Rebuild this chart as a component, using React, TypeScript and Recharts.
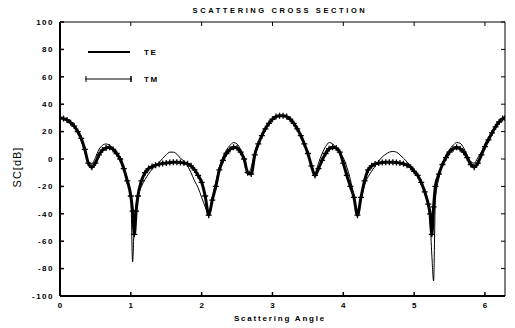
import { LineChart, Line, XAxis, YAxis, Legend } from "recharts";

// scattering angle samples (rad), a bit denser around the two deep nulls
const ANGLES = [
  0, 0.05, 0.1, 0.15, 0.2, 0.25, 0.3, 0.35, 0.4, 0.45,
  0.5, 0.55, 0.6, 0.65, 0.7, 0.75, 0.8, 0.85, 0.9, 0.95,
  1.0, 1.025, 1.05, 1.075,
  1.1, 1.15, 1.2, 1.25, 1.3, 1.35, 1.4, 1.45, 1.5, 1.55,
  1.6, 1.65, 1.7, 1.75, 1.8, 1.85, 1.9, 1.95, 2.0, 2.05,
  2.1, 2.15, 2.2, 2.25, 2.3, 2.35, 2.4, 2.45, 2.5, 2.55,
  2.6, 2.65, 2.7, 2.75, 2.8, 2.85, 2.9, 2.95, 3.0, 3.05,
  3.1, 3.15, 3.2, 3.25, 3.3, 3.35, 3.4, 3.45, 3.5, 3.55,
  3.6, 3.65, 3.7, 3.75, 3.8, 3.85, 3.9, 3.95, 4.0, 4.05,
  4.1, 4.15, 4.2, 4.25, 4.3, 4.35, 4.4, 4.45, 4.5, 4.55,
  4.6, 4.65, 4.7, 4.75, 4.8, 4.85, 4.9, 4.95, 5.0, 5.05,
  5.1, 5.15, 5.2, 5.225, 5.25, 5.275,
  5.3, 5.35, 5.4, 5.45, 5.5, 5.55, 5.6, 5.65, 5.7, 5.75,
  5.8, 5.85, 5.9, 5.95, 6.0, 6.05, 6.1, 6.15, 6.2, 6.25,
  6.283,
];

// TE, thin solid line (dB)
const TE = [
  30, 29.5, 28.5, 26.5, 23.5, 19, 13.5, 5, -2, -3.5,
  1, 7, 10, 11, 10, 7.5, 4, -1, -6, -14,
  -26, -75, -45, -33,
  -27, -20, -15, -11, -7.5, -5, -2.5, 0.5, 3, 5,
  5, 3.5, 0.5, -1.5, -5, -10, -16, -21, -28, -35,
  -40, -28, -17, -6, 1.5, 6.5, 10, 12, 11, 7,
  1, -11, -6, 5, 12, 17, 22, 26, 29, 31,
  31.5, 31.5, 31, 29, 26, 22, 17, 11, 4, -4,
  -10, -3, 4, 9, 12, 11, 8, 4, 1, -6,
  -15, -27, -40, -30, -19, -13, -9, -5, -1.5, 1.5,
  3.5, 5, 5.5, 5, 3, 0.5, -2, -5, -8, -12,
  -17, -24, -33, -45, -70, -89,
  -30, -14, -4, 3, 7, 10, 12, 11.5, 8, 3,
  -2, -3, 1, 5, 11, 16, 20, 24, 27.5, 29.5,
  30,
];

// TM, line with + markers (dB)
const TM = [
  30, 29.5, 28.5, 26.5, 24, 20, 15, 7, -3, -6,
  -3, 3, 6.5, 8, 8.5, 7, 4, 0, -7, -16,
  -27, -38, -55, -38,
  -27, -16, -10, -7, -5.5, -4.5, -3.8, -3.2, -3, -2.6,
  -2.4, -2.4, -2.5, -3, -3.5, -5, -8, -12, -17, -27,
  -41, -30, -20, -8, -1, 4, 7, 8.5, 8, 5,
  0, -10, -11, 3, 11, 17, 22, 26, 29, 31,
  31.5, 31.5, 31, 29, 26, 22, 17, 11, 4, -5,
  -12, -7, -1, 4, 7.5, 8.5, 8, 5, -3, -12,
  -20, -28, -41, -28, -16, -8, -5, -3.6, -3, -2.6,
  -2.4, -2.4, -2.4, -2.5, -3, -3.5, -4.5, -6, -9, -12,
  -17, -24, -33, -40, -55, -35,
  -20, -11, -4, 1, 5, 7.5, 8.5, 7.5, 5, 1,
  -4, -6, -3, 3, 9, 14, 19, 23.5, 27, 29.5,
  30,
];

const X_TICKS = [0, 1, 2, 3, 4, 5, 6];
const Y_TICKS = [-100, -80, -60, -40, -20, 0, 20, 40, 60, 80, 100];

const data = ANGLES.map((angle, i) => ({ angle, te: TE[i], tm: TM[i] }));

const FONT = "'Liberation Sans', Arial, sans-serif";

// tick marks point into the plot on every side
const LeftTick = (p: any) => (
  <g>
    <line x1={p.x} y1={p.y} x2={p.x + 4} y2={p.y} stroke="#000" strokeWidth={1.5} />
    <text x={p.x - 6} y={p.y} dy="0.35em" textAnchor="end" fontSize={8} fontWeight="bold"
      fontFamily={FONT} style={{ letterSpacing: 1.5 }} fill="#000">
      {p.payload.value}
    </text>
  </g>
);

const RightTick = (p: any) => (
  <line x1={p.x} y1={p.y} x2={p.x - 4} y2={p.y} stroke="#000" strokeWidth={1} />
);

const BottomTick = (p: any) => (
  <g>
    <line x1={p.x} y1={p.y} x2={p.x} y2={p.y - 4} stroke="#000" strokeWidth={1.5} />
    <text x={p.x} y={p.y + 9} dy="0.35em" textAnchor="middle" fontSize={8} fontWeight="bold"
      fontFamily={FONT} fill="#000">
      {p.payload.value}
    </text>
  </g>
);

const TopTick = (p: any) => (
  <line x1={p.x} y1={p.y} x2={p.x} y2={p.y + 4} stroke="#000" strokeWidth={1} />
);

const PlusDot = (p: any) => {
  if (p.cx == null || p.cy == null) return <g key={`tm-${p.index}`} />;
  return (
    <path key={`tm-${p.index}`} d={`M${p.cx - 3},${p.cy}h6M${p.cx},${p.cy - 3}v6`}
      stroke="#000" strokeWidth={1.3} fill="none" />
  );
};

const renderLegend = (props: any) => {
  const items = props.payload || [];
  const te = items.find((e: any) => e.dataKey === "te");
  const tm = items.find((e: any) => e.dataKey === "tm");
  return (
    <svg width={90} height={45} style={{ display: "block" }}>
      <line x1={8} y1={8} x2={50} y2={8} stroke="#000" strokeWidth={2} />
      <text x={64} y={8} dy="0.35em" fontSize={8} fontWeight="bold" fontFamily={FONT}
        style={{ letterSpacing: 1.5 }}>{te ? te.value : "TE"}</text>
      <line x1={5} y1={35} x2={52} y2={35} stroke="#000" strokeWidth={1} />
      <line x1={6} y1={32} x2={6} y2={38} stroke="#000" strokeWidth={1} />
      <line x1={51} y1={32} x2={51} y2={38} stroke="#000" strokeWidth={1.5} />
      <text x={64} y={35} dy="0.35em" fontSize={8} fontWeight="bold" fontFamily={FONT}
        style={{ letterSpacing: 1.5 }}>{tm ? tm.value : "TM"}</text>
    </svg>
  );
};

export default function App() {
  return (
    <div style={{ position: "absolute", left: 0, top: 0, width: 515, height: 328, background: "#fff" }}>
      <LineChart width={515} height={328} data={data} margin={{ top: 0, right: 0, bottom: 0, left: 0 }}>
        <XAxis xAxisId="bottom" dataKey="angle" type="number" domain={[0, 2 * Math.PI]}
          ticks={X_TICKS} allowDataOverflow height={32} tickSize={0} tickMargin={0}
          tick={<BottomTick />} axisLine={{ stroke: "#000", strokeWidth: 2 }} />
        <XAxis xAxisId="top" orientation="top" dataKey="angle" type="number" domain={[0, 2 * Math.PI]}
          ticks={X_TICKS} allowDataOverflow height={22} tickSize={0} tickMargin={0}
          tick={<TopTick />} axisLine={{ stroke: "#000", strokeWidth: 1 }} />
        <YAxis yAxisId="left" type="number" domain={[-100, 100]} ticks={Y_TICKS} width={60}
          tickSize={0} tickMargin={0} tick={<LeftTick />} allowDataOverflow
          axisLine={{ stroke: "#000", strokeWidth: 2 }} />
        <YAxis yAxisId="right" orientation="right" type="number" domain={[-100, 100]} ticks={Y_TICKS}
          width={10} tickSize={0} tickMargin={0} tick={<RightTick />} allowDataOverflow
          axisLine={{ stroke: "#000", strokeWidth: 1 }} />
        <Legend layout="vertical" align="center" verticalAlign="middle" content={renderLegend}
          wrapperStyle={{ left: 80, top: 44, width: 90, height: 45 }} />
        <Line xAxisId="bottom" yAxisId="left" dataKey="tm" name="TM" type="monotone" stroke="#000"
          strokeWidth={3} dot={PlusDot} activeDot={false} isAnimationActive={false} />
        <Line xAxisId="bottom" yAxisId="left" dataKey="te" name="TE" type="monotone" stroke="#000"
          strokeWidth={1} dot={false} activeDot={false} isAnimationActive={false} />
      </LineChart>
      <div style={{ position: "absolute", left: 130, width: 300, top: 6, textAlign: "center",
        fontFamily: FONT, fontSize: 7.5, fontWeight: "bold", letterSpacing: 2.6, lineHeight: "10px" }}>
        SCATTERING CROSS SECTION
      </div>
      <div style={{ position: "absolute", left: 180, width: 200, top: 314, textAlign: "center",
        fontFamily: FONT, fontSize: 8, fontWeight: "bold", letterSpacing: 1.8, lineHeight: "10px" }}>
        Scattering Angle
      </div>
      <div style={{ position: "absolute", left: 16.5 - 40, top: 167 - 7, width: 80, height: 14,
        textAlign: "center", transform: "rotate(-90deg)", fontFamily: FONT, fontSize: 11,
        letterSpacing: 1, lineHeight: "14px" }}>
        SC[dB]
      </div>
    </div>
  );
}
